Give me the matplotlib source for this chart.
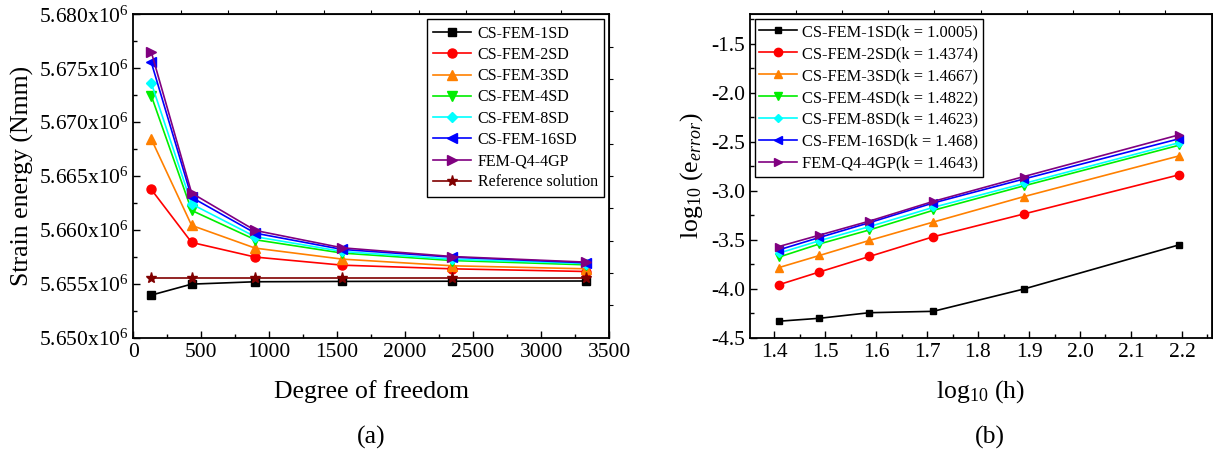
import numpy as np
import matplotlib
matplotlib.use("Agg")
import matplotlib.pyplot as plt
from matplotlib.ticker import FuncFormatter, MultipleLocator

plt.rcParams['font.family'] = ['Liberation Serif', 'DejaVu Serif']
plt.rcParams['mathtext.fontset'] = 'custom'
plt.rcParams['mathtext.rm'] = 'Liberation Serif'
plt.rcParams['mathtext.it'] = 'Liberation Serif:italic'

# ---- data (a): strain energy vs DOF ----
dof = [132, 429, 897, 1537, 2348, 3334]
se_1sd = [5.65395e6, 5.65497e6, 5.65519e6, 5.65522e6, 5.65524e6, 5.65526e6]
se_2sd = [5.66376e6, 5.65884e6, 5.65748e6, 5.65673e6, 5.65639e6, 5.65614e6]
se_3sd = [5.66844e6, 5.66042e6, 5.65831e6, 5.65729e6, 5.65667e6, 5.65639e6]
se_4sd = [5.67246e6, 5.66181e6, 5.65909e6, 5.65785e6, 5.65716e6, 5.65676e6]
se_8sd = [5.67364e6, 5.66240e6, 5.65937e6, 5.65800e6, 5.65728e6, 5.65688e6]
se_16sd = [5.67556e6, 5.66302e6, 5.65970e6, 5.65819e6, 5.65747e6, 5.65695e6]
se_q4 = [5.67652e6, 5.66342e6, 5.65995e6, 5.65834e6, 5.65753e6, 5.65701e6]
se_ref = [5.65553e6] * 6

# ---- data (b): convergence ----
logh = [1.409, 1.489, 1.587, 1.712, 1.890, 2.194]
err_1sd = [-4.332, -4.302, -4.245, -4.231, -4.003, -3.553]
err_2sd = [-3.960, -3.829, -3.671, -3.470, -3.237, -2.838]
err_3sd = [-3.785, -3.661, -3.507, -3.320, -3.060, -2.645]
err_4sd = [-3.678, -3.543, -3.400, -3.200, -2.950, -2.536]
err_8sd = [-3.638, -3.510, -3.366, -3.170, -2.926, -2.510]
err_16sd = [-3.604, -3.477, -3.326, -3.125, -2.880, -2.470]
err_q4 = [-3.570, -3.453, -3.310, -3.109, -2.855, -2.430]

names = ['CS-FEM-1SD', 'CS-FEM-2SD', 'CS-FEM-3SD', 'CS-FEM-4SD',
         'CS-FEM-8SD', 'CS-FEM-16SD', 'FEM-Q4-4GP']
rates = ['1.0005', '1.4374', '1.4667', '1.4822', '1.4623', '1.468', '1.4643']
colors = ['black', 'red', '#FF8000', '#00EE00', 'cyan', 'blue', '#800080']
markers = ['s', 'o', '^', 'v', 'D', '<', '>']
msizes = [5.5, 6.5, 6.5, 6.5, 5, 6.5, 6.5]

fig = plt.figure(figsize=(12.13, 4.54), dpi=100)
ax1 = fig.add_axes([0.1099, 0.2562, 0.3922, 0.7121])
ax2 = fig.add_axes([0.618, 0.2562, 0.3808, 0.7121])

se_all = [se_1sd, se_2sd, se_3sd, se_4sd, se_8sd, se_16sd, se_q4]
for i in range(7):
    ax1.plot(dof, se_all[i], color=colors[i], marker=markers[i], ms=msizes[i],
             lw=1.2, label=names[i])
ax1.plot(dof, se_ref, color='#800000', marker='*', ms=8, lw=1.2, label='Reference solution')

ax1.set_xlim(0, 3500)
ax1.set_ylim(5.650e6, 5.680e6)
ax1.xaxis.set_major_locator(MultipleLocator(500))
ax1.xaxis.set_minor_locator(MultipleLocator(250))
ax1.yaxis.set_major_locator(MultipleLocator(0.005e6))
ax1.yaxis.set_minor_locator(MultipleLocator(0.0025e6))
ax1.yaxis.set_major_formatter(FuncFormatter(lambda v, p: f"{v/1e6:.3f}x10$^{{6}}$"))
ax1.set_xlabel('Degree of freedom', fontsize=18.5, labelpad=13)
ax1.set_ylabel('Strain energy (Nmm)', fontsize=18.5, labelpad=3)
ax1.text(0.5, -0.308, '(a)', transform=ax1.transAxes, ha='center', va='center', fontsize=18.5)
leg1 = ax1.legend(loc='upper right', fontsize=11.5, frameon=True, fancybox=False,
                  edgecolor='black', framealpha=1, handlelength=2.4, labelspacing=0.33,
                  borderpad=0.4, handletextpad=0.4, borderaxespad=0.3)
leg1.get_frame().set_linewidth(1.0)

err_all = [err_1sd, err_2sd, err_3sd, err_4sd, err_8sd, err_16sd, err_q4]
for i in range(7):
    ax2.plot(logh, err_all[i], color=colors[i], marker=markers[i], ms=msizes[i] - 0.5,
             lw=1.2, label=f'{names[i]}(k = {rates[i]})')

ax2.set_xlim(1.352, 2.258)
ax2.set_ylim(-4.5, -1.2)
ax2.xaxis.set_major_locator(MultipleLocator(0.1))
ax2.xaxis.set_minor_locator(MultipleLocator(0.05))
ax2.yaxis.set_major_locator(MultipleLocator(0.5))
ax2.yaxis.set_minor_locator(MultipleLocator(0.25))
ax2.xaxis.set_major_formatter(FuncFormatter(lambda v, p: f"{v:.1f}"))
ax2.yaxis.set_major_formatter(FuncFormatter(lambda v, p: f"{v:.1f}"))
ax2.set_xlabel(r'log$_{10}$ (h)', fontsize=18.5, labelpad=12)
ax2.set_ylabel(r'log$_{10}$ (e$_{\mathit{error}}$)', fontsize=18.5, labelpad=4)
ax2.text(0.52, -0.308, '(b)', transform=ax2.transAxes, ha='center', va='center', fontsize=18.5)
leg2 = ax2.legend(loc='upper left', fontsize=11.8, frameon=True, fancybox=False,
                  edgecolor='black', framealpha=1, handlelength=2.3, labelspacing=0.36,
                  borderpad=0.3, handletextpad=0.3, borderaxespad=0.3)
leg2.get_frame().set_linewidth(1.0)

for ax in (ax1, ax2):
    ax.tick_params(which='both', direction='in', labelsize=15.5, top=False, right=False)
    ax.tick_params(which='major', length=5, width=1)
    ax.tick_params(which='minor', length=3, width=1)
    for s in ax.spines.values():
        s.set_linewidth(1.3)
    # top/right axes with outward ticks, 10 divisions
    lo, hi = ax.get_xlim()
    sx = ax.secondary_xaxis('top')
    sx.set_xticks(np.linspace(lo, hi, 11)[1:-1])
    sx.tick_params(direction='out', length=3, labeltop=False)
    lo, hi = ax.get_ylim()
    sy = ax.secondary_yaxis('right')
    sy.set_yticks(np.linspace(lo, hi, 11)[1:-1])
    sy.tick_params(direction='out', length=3, labelright=False)

fig.savefig('out.png', dpi=100)
